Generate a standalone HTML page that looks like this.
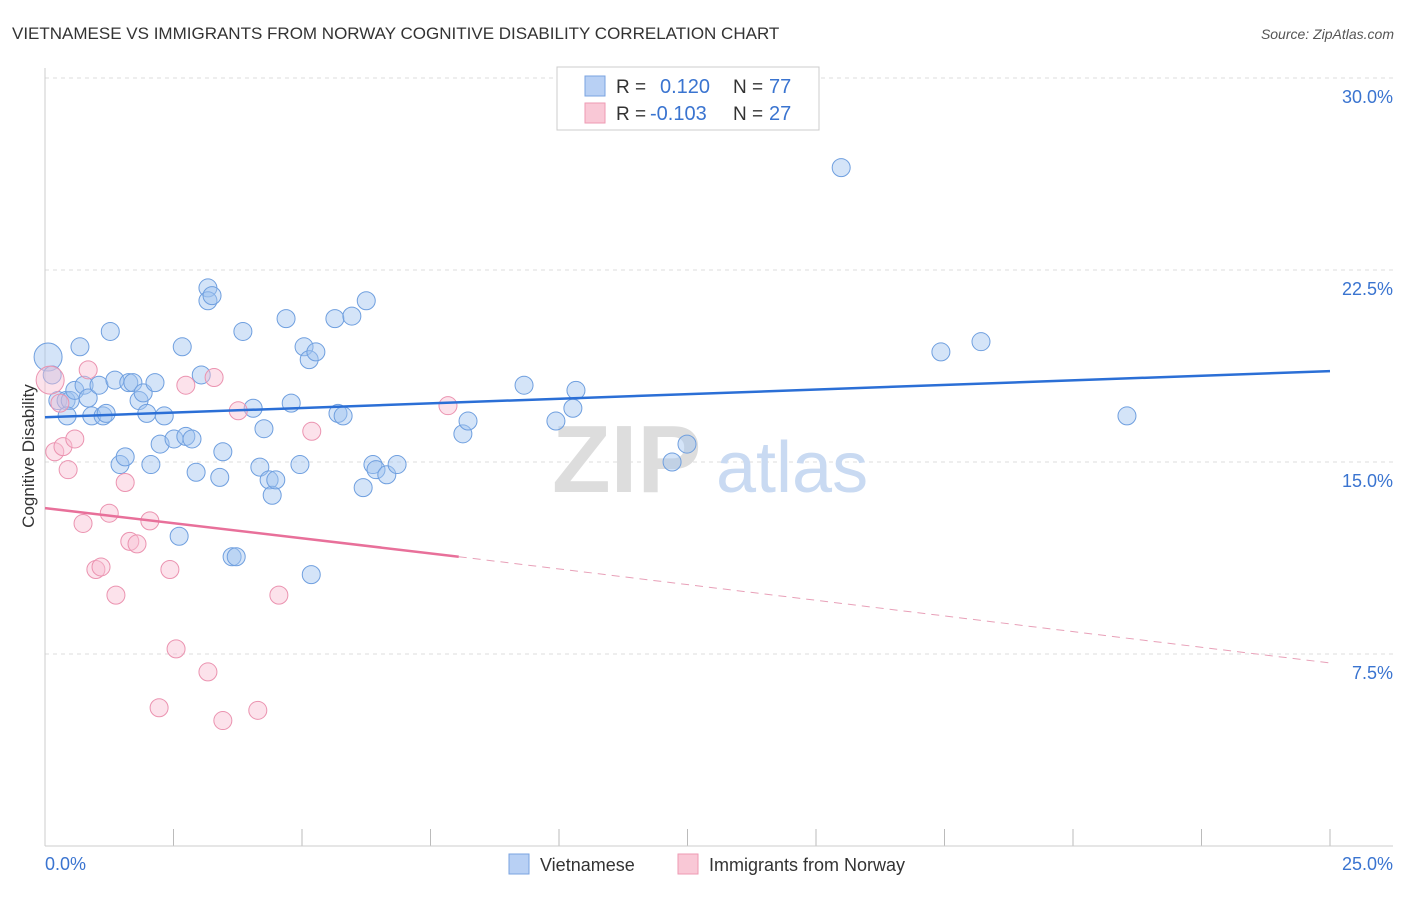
<!DOCTYPE html>
<html><head><meta charset="utf-8"><style>
body{margin:0;background:#fff;font-family:"Liberation Sans",sans-serif;}
svg text{font-family:"Liberation Sans",sans-serif;}
</style></head><body>
<svg id="chart" width="1406" height="892" xmlns="http://www.w3.org/2000/svg">
<text x="12" y="39" font-size="17" fill="#333">VIETNAMESE VS IMMIGRANTS FROM NORWAY COGNITIVE DISABILITY CORRELATION CHART</text>
<text x="1394" y="39" font-size="14" fill="#555" font-style="italic" text-anchor="end">Source: ZipAtlas.com</text>
<g id="grid"></g>
<g><text x="552" y="492" font-size="96" fill="#ddd" font-family="Liberation Serif" font-weight="bold">ZIP</text><text x="716" y="492" font-size="72" fill="#c9daf2">atlas</text></g>
<line x1="45" y1="68" x2="45" y2="846" stroke="#ccc"/>
<line x1="45" y1="846" x2="1393" y2="846" stroke="#ccc"/>
<text transform="translate(34,456) rotate(-90)" font-size="17" fill="#333" text-anchor="middle">Cognitive Disability</text>
<text x="45" y="870" font-size="18" fill="#3a74d0">0.0%</text>
<text x="1393" y="870" font-size="18" fill="#3a74d0" text-anchor="end">25.0%</text>
<g id="pts"></g>
<g>
<rect x="557" y="67" width="262" height="63" fill="#fff" stroke="#ccc"/>
<rect x="585" y="76" width="20" height="20" fill="#b8d0f4" stroke="#7aa3e0"/>
<rect x="585" y="103" width="20" height="20" fill="#f9c8d6" stroke="#ee9ab3"/>
<text x="616" y="93" font-size="19" fill="#333">R = </text><text x="660" y="93" font-size="20" fill="#3a74d0">0.120</text>
<text x="733" y="93" font-size="19" fill="#333">N = </text><text x="769" y="93" font-size="20" fill="#3a74d0">77</text>
<text x="616" y="120" font-size="19" fill="#333">R = </text><text x="650" y="120" font-size="20" fill="#3a74d0">-0.103</text>
<text x="733" y="120" font-size="19" fill="#333">N = </text><text x="769" y="120" font-size="20" fill="#3a74d0">27</text>
</g>
<g>
<rect x="509" y="854" width="20" height="20" fill="#b8d0f4" stroke="#7aa3e0"/>
<text x="540" y="871" font-size="18" fill="#333">Vietnamese</text>
<rect x="678" y="854" width="20" height="20" fill="#f9c8d6" stroke="#ee9ab3"/>
<text x="709" y="871" font-size="18" fill="#333">Immigrants from Norway</text>
</g>
</svg>
<script>
const yTicks=[7.5,15,22.5,30];
const yTickLabels=["7.5%","15.0%","22.5%","30.0%"];
const xTicks=[0,2.5,5,7.5,10,12.5,15,17.5,20,22.5,25];
const blueX=[0.06,0.14,0.25,0.41,0.49,0.43,0.58,0.68,0.76,0.84,0.91,1.05,1.13,1.19,1.27,1.36,1.46,1.56,1.63,1.71,1.83,1.91,1.98,2.06,2.14,2.24,2.32,2.51,2.61,2.67,2.74,2.86,2.94,3.04,3.17,3.17,3.25,3.40,3.46,3.64,3.72,3.85,4.05,4.18,4.26,4.36,4.42,4.49,4.69,4.79,4.96,5.04,5.14,5.18,5.27,5.64,5.70,5.80,5.97,6.19,6.25,6.38,6.44,6.65,6.85,8.13,8.23,9.32,9.94,10.27,10.33,12.20,12.49,15.49,17.43,18.21,21.05];
const blueY=[19.1,18.4,17.4,17.4,17.4,16.8,17.8,19.5,18.0,17.5,16.8,18.0,16.8,16.9,20.1,18.2,14.9,15.2,18.1,18.1,17.4,17.7,16.9,14.9,18.1,15.7,16.8,15.9,12.1,19.5,16.0,15.9,14.6,18.4,21.8,21.3,21.5,14.4,15.4,11.3,11.3,20.1,17.1,14.8,16.3,14.3,13.7,14.3,20.6,17.3,14.9,19.5,19.0,10.6,19.3,20.6,16.9,16.8,20.7,14.0,21.3,14.9,14.7,14.5,14.9,16.1,16.6,18.0,16.6,17.1,17.8,15.0,15.7,26.5,19.3,19.7,16.8];
const blueR=[14,9,9,9,9,9,9,9,9,9,9,9,9,9,9,9,9,9,9,9,9,9,9,9,9,9,9,9,9,9,9,9,9,9,9,9,9,9,9,9,9,9,9,9,9,9,9,9,9,9,9,9,9,9,9,9,9,9,9,9,9,9,9,9,9,9,9,9,9,9,9,9,9,9,9,9,9];
const pinkX=[0.10,0.19,0.29,0.35,0.45,0.58,0.74,0.84,0.99,1.09,1.25,1.38,1.56,1.65,1.79,2.04,2.22,2.43,2.55,2.74,3.17,3.29,3.46,3.76,4.14,4.55,5.19,7.84];
const pinkY=[18.2,15.4,17.3,15.6,14.7,15.9,12.6,18.6,10.8,10.9,13.0,9.8,14.2,11.9,11.8,12.7,5.4,10.8,7.7,18.0,6.8,18.3,4.9,17.0,5.3,9.8,16.2,17.2];
const pinkR=[14,9,9,9,9,9,9,9,9,9,9,9,9,9,9,9,9,9,9,9,9,9,9,9,9,9,9,9];
const blueTrend=[[0,16.75],[25,18.55]];
const pinkTrend=[[0,13.2],[8.05,11.3],[25,7.15]];
const X=v=>45+v*51.4, Y=v=>846-v*25.6;
const NS="http://www.w3.org/2000/svg";
const svg=document.getElementById('chart'), grid=document.getElementById('grid'), pts=document.getElementById('pts');
function mk(t,a,p){const e=document.createElementNS(NS,t);for(const k in a)e.setAttribute(k,a[k]);p.appendChild(e);return e;}
yTicks.forEach((t,i)=>{
 const l=mk('line',{x1:45,x2:1393,y1:Y(t),y2:Y(t),stroke:'#ddd','stroke-dasharray':'4,4'},grid);
 
 
 const tx=mk('text',{x:1393,y:Y(t)+25,'font-size':18,fill:'#3a74d0','text-anchor':'end'},grid);
 tx.textContent=yTickLabels[i];
 
 
});
const topLine=mk('line',{x1:45,x2:1393,y1:78,y2:78,stroke:'#ddd','stroke-dasharray':'4,4'},grid);


xTicks.forEach(t=>{
 const l=mk('line',{x1:X(t),x2:X(t),y1:829,y2:846,stroke:'#bbb'},grid);
 
 
});
blueX.forEach((x,i)=>{
 const c=mk('circle',{cx:X(x),cy:Y(blueY[i]),r:blueR[i],fill:'rgba(160,195,240,0.45)',stroke:'#6f9fdf','stroke-width':1},pts);
 
 
});
pinkX.forEach((x,i)=>{
 const c=mk('circle',{cx:X(x),cy:Y(pinkY[i]),r:pinkR[i],fill:'rgba(248,190,210,0.45)',stroke:'#eb93b0','stroke-width':1},pts);
 
 
});
const bl=mk('line',{x1:X(blueTrend[0][0]),y1:Y(blueTrend[0][1]),x2:X(blueTrend[1][0]),y2:Y(blueTrend[1][1]),stroke:'#2b6fd6','stroke-width':2.5},svg);


const pl=mk('line',{x1:X(pinkTrend[0][0]),y1:Y(pinkTrend[0][1]),x2:X(pinkTrend[1][0]),y2:Y(pinkTrend[1][1]),stroke:'#e8709a','stroke-width':2.5},svg);


const pd=mk('line',{x1:X(pinkTrend[1][0]),y1:Y(pinkTrend[1][1]),x2:X(pinkTrend[2][0]),y2:Y(pinkTrend[2][1]),stroke:'#e8a0b8','stroke-width':1,'stroke-dasharray':'8,6'},svg);


</script>
</body></html>
